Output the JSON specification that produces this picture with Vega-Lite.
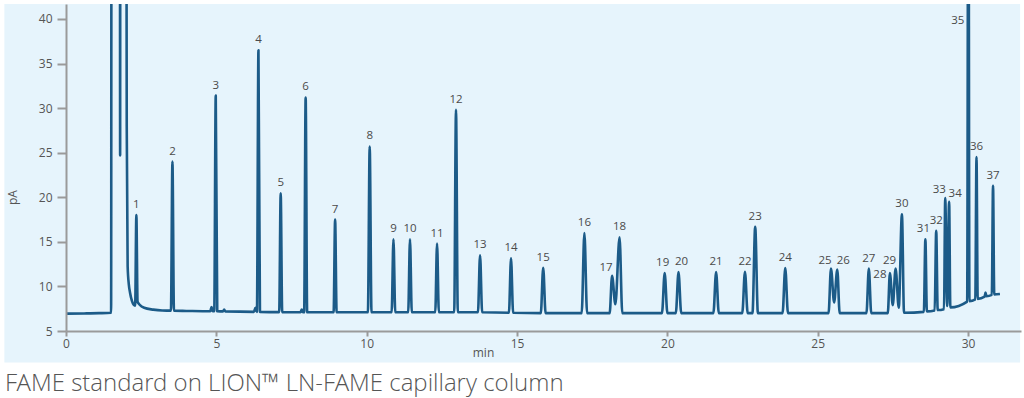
{
  "$schema": "https://vega.github.io/schema/vega-lite/v6.json",
  "width": 955,
  "height": 327,
  "autosize": {"type": "none"},
  "padding": {"left": 66, "top": 4, "right": 3, "bottom": 67},
  "background": "white",
  "config": {"view": {"stroke": null}, "font": "Open Sans"},
  "title": {
    "text": "FAME standard on LION™ LN-FAME capillary column",
    "orient": "bottom",
    "anchor": "start",
    "frame": "group",
    "dx": -61,
    "offset": 10,
    "fontSize": 24,
    "font": "Open Sans Light, Open Sans",
    "fontWeight": 300,
    "color": "#555555"
  },
  "datasets": {
    "trace": [
      {"t": 0, "pA": 6.95}, {"t": 0.6, "pA": 6.97}, {"t": 1.1, "pA": 7.0}, {"t": 1.5, "pA": 7.05},
      {"t": 1.52, "pA": 100}, {"t": 1.79, "pA": 100}, {"t": 1.8, "pA": 24.7}, {"t": 1.81, "pA": 100},
      {"t": 1.99, "pA": 100}, {"t": 2.02, "pA": 28}, {"t": 2.05, "pA": 12.3}, {"t": 2.09, "pA": 10.2},
      {"t": 2.13, "pA": 9.3}, {"t": 2.19, "pA": 8.4}, {"t": 2.25, "pA": 7.95}, {"t": 2.3, "pA": 7.85},
      {"t": 2.34, "pA": 18.0}, {"t": 2.38, "pA": 8.3}, {"t": 2.45, "pA": 7.95}, {"t": 2.6, "pA": 7.6},
      {"t": 2.9, "pA": 7.4}, {"t": 3.2, "pA": 7.3}, {"t": 3.49, "pA": 7.28}, {"t": 3.54, "pA": 24.0},
      {"t": 3.59, "pA": 7.27}, {"t": 4.0, "pA": 7.25}, {"t": 4.8, "pA": 7.22}, {"t": 4.84, "pA": 7.7},
      {"t": 4.88, "pA": 7.22}, {"t": 4.93, "pA": 7.22}, {"t": 4.98, "pA": 31.4}, {"t": 5.03, "pA": 7.22},
      {"t": 5.22, "pA": 7.2}, {"t": 5.26, "pA": 7.4}, {"t": 5.3, "pA": 7.2}, {"t": 6.25, "pA": 7.15},
      {"t": 6.3, "pA": 7.6}, {"t": 6.35, "pA": 7.15}, {"t": 6.4, "pA": 36.5}, {"t": 6.45, "pA": 7.15},
      {"t": 7.09, "pA": 7.12}, {"t": 7.14, "pA": 20.45}, {"t": 7.19, "pA": 7.12}, {"t": 7.8, "pA": 7.1},
      {"t": 7.84, "pA": 7.4}, {"t": 7.88, "pA": 7.1}, {"t": 7.92, "pA": 7.1}, {"t": 7.97, "pA": 31.2},
      {"t": 8.02, "pA": 7.1}, {"t": 8.9, "pA": 7.1}, {"t": 8.95, "pA": 17.5}, {"t": 9.0, "pA": 7.1},
      {"t": 10.04, "pA": 7.1}, {"t": 10.1, "pA": 25.7}, {"t": 10.16, "pA": 7.1}, {"t": 10.83, "pA": 7.1},
      {"t": 10.89, "pA": 15.3}, {"t": 10.95, "pA": 7.1}, {"t": 11.38, "pA": 7.1}, {"t": 11.44, "pA": 15.3},
      {"t": 11.5, "pA": 7.1}, {"t": 12.28, "pA": 7.1}, {"t": 12.34, "pA": 14.8}, {"t": 12.4, "pA": 7.1},
      {"t": 12.91, "pA": 7.1}, {"t": 12.97, "pA": 29.8}, {"t": 13.03, "pA": 7.1}, {"t": 13.7, "pA": 7.1},
      {"t": 13.77, "pA": 13.5}, {"t": 13.84, "pA": 7.1}, {"t": 14.73, "pA": 7.05}, {"t": 14.8, "pA": 13.15},
      {"t": 14.87, "pA": 7.05}, {"t": 15.79, "pA": 7.0}, {"t": 15.87, "pA": 12.1}, {"t": 15.95, "pA": 7.0},
      {"t": 17.15, "pA": 7.0}, {"t": 17.24, "pA": 16.0}, {"t": 17.33, "pA": 7.0}, {"t": 18.08, "pA": 7.0},
      {"t": 18.16, "pA": 11.2}, {"t": 18.27, "pA": 8.0}, {"t": 18.41, "pA": 15.5}, {"t": 18.5, "pA": 7.0},
      {"t": 19.82, "pA": 7.0}, {"t": 19.91, "pA": 11.5}, {"t": 20.0, "pA": 7.0}, {"t": 20.28, "pA": 7.0},
      {"t": 20.37, "pA": 11.6}, {"t": 20.46, "pA": 7.0}, {"t": 21.53, "pA": 7.0}, {"t": 21.62, "pA": 11.6},
      {"t": 21.71, "pA": 7.0}, {"t": 22.49, "pA": 7.0}, {"t": 22.58, "pA": 11.65}, {"t": 22.67, "pA": 7.0},
      {"t": 22.83, "pA": 7.0}, {"t": 22.92, "pA": 16.7}, {"t": 23.01, "pA": 7.0}, {"t": 23.83, "pA": 7.0},
      {"t": 23.92, "pA": 12.05}, {"t": 24.01, "pA": 7.0}, {"t": 25.36, "pA": 7.0}, {"t": 25.44, "pA": 12.0},
      {"t": 25.545, "pA": 8.2}, {"t": 25.65, "pA": 11.9}, {"t": 25.73, "pA": 7.0}, {"t": 26.62, "pA": 7.0},
      {"t": 26.7, "pA": 12.0}, {"t": 26.78, "pA": 7.0}, {"t": 27.33, "pA": 7.0}, {"t": 27.4, "pA": 11.5},
      {"t": 27.495, "pA": 7.9}, {"t": 27.59, "pA": 12.0}, {"t": 27.695, "pA": 7.6}, {"t": 27.8, "pA": 18.1},
      {"t": 27.87, "pA": 7.05}, {"t": 28.53, "pA": 7.15}, {"t": 28.58, "pA": 15.3}, {"t": 28.63, "pA": 7.2},
      {"t": 28.89, "pA": 7.3}, {"t": 28.94, "pA": 16.25}, {"t": 28.99, "pA": 7.35}, {"t": 29.2, "pA": 7.45},
      {"t": 29.24, "pA": 19.9}, {"t": 29.305, "pA": 7.8}, {"t": 29.37, "pA": 19.5}, {"t": 29.41, "pA": 7.65},
      {"t": 29.97, "pA": 8.3}, {"t": 30.01, "pA": 70}, {"t": 30.045, "pA": 8.35}, {"t": 30.24, "pA": 8.55},
      {"t": 30.28, "pA": 24.5}, {"t": 30.32, "pA": 8.6}, {"t": 30.55, "pA": 8.85}, {"t": 30.58, "pA": 9.3},
      {"t": 30.61, "pA": 8.9}, {"t": 30.79, "pA": 9.05}, {"t": 30.83, "pA": 21.3}, {"t": 30.87, "pA": 9.1},
      {"t": 31.06, "pA": 9.15}
    ],
    "peaks": [
      {"id": 1, "t": 2.34, "pA": 18.0}, {"id": 2, "t": 3.54, "pA": 24.0}, {"id": 3, "t": 4.98, "pA": 31.4},
      {"id": 4, "t": 6.4, "pA": 36.5}, {"id": 5, "t": 7.14, "pA": 20.45}, {"id": 6, "t": 7.97, "pA": 31.2},
      {"id": 7, "t": 8.95, "pA": 17.5}, {"id": 8, "t": 10.1, "pA": 25.7}, {"id": 9, "t": 10.89, "pA": 15.3},
      {"id": 10, "t": 11.44, "pA": 15.3}, {"id": 11, "t": 12.34, "pA": 14.8}, {"id": 12, "t": 12.97, "pA": 29.8},
      {"id": 13, "t": 13.77, "pA": 13.5}, {"id": 14, "t": 14.8, "pA": 13.15}, {"id": 15, "t": 15.87, "pA": 12.1},
      {"id": 16, "t": 17.24, "pA": 16.0}, {"id": 17, "t": 18.16, "pA": 11.2}, {"id": 18, "t": 18.41, "pA": 15.5},
      {"id": 19, "t": 19.91, "pA": 11.5}, {"id": 20, "t": 20.37, "pA": 11.6}, {"id": 21, "t": 21.62, "pA": 11.6},
      {"id": 22, "t": 22.58, "pA": 11.65}, {"id": 23, "t": 22.92, "pA": 16.7}, {"id": 24, "t": 23.92, "pA": 12.05},
      {"id": 25, "t": 25.44, "pA": 12.0}, {"id": 26, "t": 25.65, "pA": 11.9}, {"id": 27, "t": 26.7, "pA": 12.0},
      {"id": 28, "t": 27.4, "pA": 11.5}, {"id": 29, "t": 27.59, "pA": 12.0}, {"id": 30, "t": 27.8, "pA": 18.1},
      {"id": 31, "t": 28.58, "pA": 15.3}, {"id": 32, "t": 28.94, "pA": 16.25}, {"id": 33, "t": 29.24, "pA": 19.9},
      {"id": 34, "t": 29.37, "pA": 19.5}, {"id": 35, "t": 30.01, "pA": 70}, {"id": 36, "t": 30.28, "pA": 24.5},
      {"id": 37, "t": 30.83, "pA": 21.3}
    ]
  },
  "layer": [
    {
      "data": {"values": [{"area": "panel"}]},
      "mark": {"type": "rect", "fill": "#e6f4fc", "fillOpacity": 1, "opacity": 1, "strokeWidth": 0, "clip": false},
      "encoding": {
        "x": {"datum": -2.05, "type": "quantitative", "scale": {"domain": [0, 31.76], "nice": false, "zero": false}},
        "x2": {"datum": 31.73},
        "y": {"datum": 1.48, "type": "quantitative", "scale": {"domain": [5, 41.68], "nice": false, "zero": false}},
        "y2": {"datum": 41.68}
      }
    },
    {
      "data": {"name": "trace"},
      "mark": {"type": "line", "color": "#1c5b88", "strokeWidth": 2.6, "interpolate": "monotone", "clip": true, "strokeJoin": "round"},
      "encoding": {
        "x": {
          "field": "t",
          "type": "quantitative",
          "scale": {"domain": [0, 31.76], "nice": false, "zero": false},
          "axis": {
            "title": "min",
            "values": [0, 5, 10, 15, 20, 25, 30],
            "format": "d",
            "grid": false,
            "zindex": 1,
            "domainColor": "#9a9a9a",
            "domainWidth": 2,
            "tickColor": "#9a9a9a",
            "tickWidth": 2,
            "tickSize": 5,
            "labelColor": "#555555",
            "labelFontSize": 12,
            "labelFont": "Open Sans",
            "labelPadding": 2,
            "labelFlush": false,
            "titleFont": "Open Sans",
            "titleFontSize": 12,
            "titleFontWeight": "normal",
            "titleColor": "#555555",
            "titleX": 417,
            "titleY": 21,
            "titleAlign": "center",
            "titleBaseline": "middle"
          }
        },
        "y": {
          "field": "pA",
          "type": "quantitative",
          "scale": {"domain": [5, 41.68], "nice": false, "zero": false},
          "axis": {
            "title": "pA",
            "values": [5, 10, 15, 20, 25, 30, 35, 40],
            "grid": false,
            "zindex": 1,
            "domainColor": "#9a9a9a",
            "domainWidth": 2,
            "tickColor": "#9a9a9a",
            "tickWidth": 2,
            "tickSize": 9,
            "labelColor": "#555555",
            "labelFontSize": 12,
            "labelFont": "Open Sans",
            "labelPadding": 5,
            "labelFlush": false,
            "titleFont": "Open Sans",
            "titleFontSize": 12,
            "titleFontWeight": "normal",
            "titleColor": "#555555",
            "titleX": -54,
            "titleY": 193,
            "titleAngle": 270,
            "titleAlign": "center",
            "titleBaseline": "middle"
          }
        }
      }
    },
    {
      "data": {"name": "peaks"},
      "transform": [{"filter": "indexof([17,19,20,25,26,28,29,31,33,34,35], datum.id) < 0"}],
      "mark": {"type": "text", "dy": -10, "baseline": "middle", "align": "center", "fontSize": 11.5, "font": "Open Sans", "color": "#4a4a4a"},
      "encoding": {"x": {"field": "t", "type": "quantitative"}, "y": {"field": "pA", "type": "quantitative"}, "text": {"field": "id", "type": "nominal"}}
    },
    {
      "data": {"name": "peaks"},
      "transform": [{"filter": {"field": "id", "oneOf": [19, 31]}}],
      "mark": {"type": "text", "dx": -2, "dy": -10, "baseline": "middle", "align": "center", "fontSize": 11.5, "font": "Open Sans", "color": "#4a4a4a"},
      "encoding": {"x": {"field": "t", "type": "quantitative"}, "y": {"field": "pA", "type": "quantitative"}, "text": {"field": "id", "type": "nominal"}}
    },
    {
      "data": {"name": "peaks"},
      "transform": [{"filter": {"field": "id", "oneOf": [20]}}],
      "mark": {"type": "text", "dx": 3, "dy": -10, "baseline": "middle", "align": "center", "fontSize": 11.5, "font": "Open Sans", "color": "#4a4a4a"},
      "encoding": {"x": {"field": "t", "type": "quantitative"}, "y": {"field": "pA", "type": "quantitative"}, "text": {"field": "id", "type": "nominal"}}
    },
    {
      "data": {"name": "peaks"},
      "transform": [{"filter": {"field": "id", "oneOf": [17, 25, 29, 33]}}],
      "mark": {"type": "text", "dx": -6, "dy": -8, "baseline": "middle", "align": "center", "fontSize": 11.5, "font": "Open Sans", "color": "#4a4a4a"},
      "encoding": {"x": {"field": "t", "type": "quantitative"}, "y": {"field": "pA", "type": "quantitative"}, "text": {"field": "id", "type": "nominal"}}
    },
    {
      "data": {"name": "peaks"},
      "transform": [{"filter": {"field": "id", "oneOf": [26, 34]}}],
      "mark": {"type": "text", "dx": 6, "dy": -8, "baseline": "middle", "align": "center", "fontSize": 11.5, "font": "Open Sans", "color": "#4a4a4a"},
      "encoding": {"x": {"field": "t", "type": "quantitative"}, "y": {"field": "pA", "type": "quantitative"}, "text": {"field": "id", "type": "nominal"}}
    },
    {
      "data": {"name": "peaks"},
      "transform": [{"filter": {"field": "id", "equal": 28}}],
      "mark": {"type": "text", "dx": -10, "dy": 2, "baseline": "middle", "align": "center", "fontSize": 11.5, "font": "Open Sans", "color": "#4a4a4a"},
      "encoding": {"x": {"field": "t", "type": "quantitative"}, "y": {"field": "pA", "type": "quantitative"}, "text": {"field": "id", "type": "nominal"}}
    },
    {
      "data": {"name": "peaks"},
      "transform": [{"filter": {"field": "id", "equal": 35}}],
      "mark": {"type": "text", "dx": -4, "baseline": "middle", "align": "right", "fontSize": 11.5, "font": "Open Sans", "color": "#4a4a4a"},
      "encoding": {
        "x": {"field": "t", "type": "quantitative"},
        "y": {"datum": 39.8, "type": "quantitative"},
        "text": {"field": "id", "type": "nominal"}
      }
    }
  ]
}
